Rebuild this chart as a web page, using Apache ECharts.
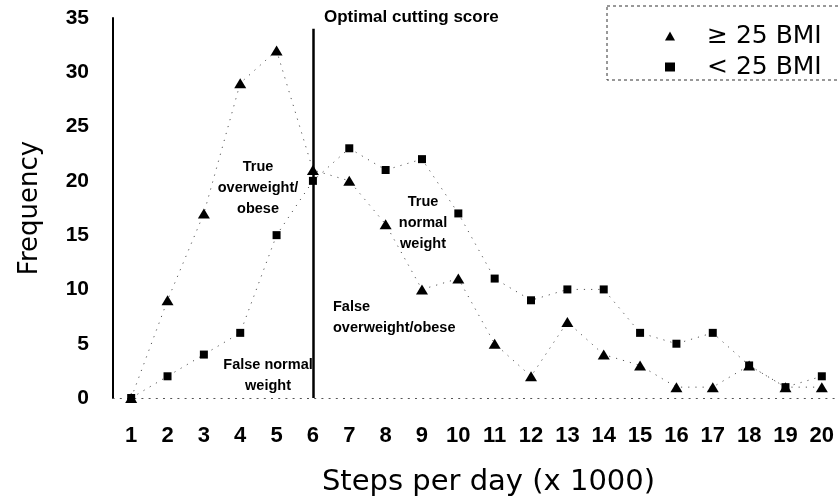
<!DOCTYPE html>
<html>
<head>
    <meta charset="UTF-8">
    <title>Steps per day</title>
    <script src="https://cdn.jsdelivr.net/npm/echarts@6/dist/echarts.min.js"></script>
    <style>
        html, body { margin: 0; padding: 0; background: #fff; }
        #main { width: 840px; height: 502px; }
    </style>
</head>
<body>
<div id="main"></div>
<script type="text/javascript">
    // steps per day (x 1000)
    var steps = ['1', '2', '3', '4', '5', '6', '7', '8', '9', '10',
        '11', '12', '13', '14', '15', '16', '17', '18', '19', '20'];
    // frequency, >= 25 BMI (triangles)
    var overBmi = [0, 9, 17, 29, 32, 21, 20, 16, 10, 11, 5, 2, 7, 4, 3, 1, 1, 3, 1, 1];
    // frequency, < 25 BMI (squares)
    var underBmi = [0, 2, 4, 6, 15, 20, 23, 21, 22, 17, 11, 9, 10, 10, 6, 5, 6, 3, 1, 2];
    var seriesNames = ['\u2265 25 BMI', '< 25 BMI'];
    var cutoffStep = '6';
    var cutoffTop = 34;
    var freqTicks = [0, 5, 10, 15, 20, 25, 30, 35];

    var tickFont = 'Liberation Sans, Arial, sans-serif';
    var titleFont = 'DejaVu Sans, sans-serif';
    var noteStyle = {
        fontFamily: tickFont,
        fontWeight: 'bold',
        fontSize: 14.5,
        lineHeight: 21,
        fill: '#000'
    };

    var chart = echarts.init(document.getElementById('main'));

    // faint dotted joins between the points
    var dotted = {color: '#555', width: 1, type: [1.2, 6]};

    chart.setOption({
        animation: false,
        backgroundColor: '#fff',
        grid: {left: 113, right: 0, top: 18, bottom: 103},
        legend: {
            orient: 'vertical',
            left: 660,
            top: 18,
            itemWidth: 10,
            itemHeight: 9,
            itemGap: 5,
            selectedMode: false,
            data: [
                {name: seriesNames[0], icon: 'triangle'},
                {name: seriesNames[1], icon: 'rect'}
            ],
            itemStyle: {color: '#000'},
            textStyle: {
                fontFamily: titleFont,
                fontSize: 25,
                lineHeight: 26,
                color: '#000',
                padding: [0, 0, 0, 27]
            }
        },
        xAxis: {
            type: 'category',
            data: steps,
            boundaryGap: true,
            name: 'Steps per day (x 1000)',
            nameLocation: 'middle',
            nameGap: 70,
            nameTextStyle: {
                fontFamily: titleFont,
                fontSize: 29,
                color: '#000',
                padding: [0, 0, 0, 24]
            },
            axisLine: {show: true, lineStyle: dotted},
            axisTick: {show: false},
            axisLabel: {
                margin: 27,
                fontFamily: tickFont,
                fontWeight: 'bold',
                fontSize: 22,
                color: '#000'
            },
            splitLine: {show: false}
        },
        yAxis: {
            type: 'value',
            min: freqTicks[0],
            max: freqTicks[freqTicks.length - 1],
            interval: 5,
            name: 'Frequency',
            nameLocation: 'middle',
            nameRotate: 90,
            nameGap: 70,
            nameTextStyle: {
                fontFamily: titleFont,
                fontSize: 26,
                color: '#000'
            },
            axisLine: {show: true, lineStyle: {color: '#000', width: 2}},
            axisTick: {show: false},
            axisLabel: {
                margin: 24,
                fontFamily: tickFont,
                fontWeight: 'bold',
                fontSize: 21,
                color: '#000'
            },
            splitLine: {show: false}
        },
        series: [
            {
                name: seriesNames[0],
                type: 'line',
                data: overBmi,
                symbol: 'triangle',
                symbolSize: [12, 10],
                showAllSymbol: true,
                itemStyle: {color: '#000'},
                lineStyle: dotted,
                z: 3
            },
            {
                name: seriesNames[1],
                type: 'line',
                data: underBmi,
                symbol: 'rect',
                symbolSize: 8,
                showAllSymbol: true,
                itemStyle: {color: '#000'},
                lineStyle: dotted,
                z: 4,
                markLine: {
                    silent: true,
                    symbol: 'none',
                    label: {show: false},
                    lineStyle: {color: '#000', width: 2.5, type: 'solid'},
                    data: [[{coord: [cutoffStep, cutoffTop]}, {coord: [cutoffStep, 0]}]]
                }
            }
        ],
        graphic: [
            {
                type: 'rect',
                shape: {x: 607, y: 6, width: 240, height: 74},
                style: {fill: 'none', stroke: '#333', lineWidth: 1, lineDash: [3, 3]},
                silent: true
            },
            {
                type: 'text', left: 324, top: 9,
                style: {
                    text: 'Optimal cutting score',
                    fontFamily: tickFont, fontWeight: 'bold', fontSize: 17, fill: '#000'
                }
            },
            {
                type: 'text', x: 258, y: 156,
                style: Object.assign({text: 'True\noverweight/\nobese', align: 'center'}, noteStyle)
            },
            {
                type: 'text', x: 268, y: 354,
                style: Object.assign({text: 'False normal\nweight', align: 'center'}, noteStyle)
            },
            {
                type: 'text', x: 423, y: 191,
                style: Object.assign({text: 'True\nnormal\nweight', align: 'center'}, noteStyle)
            },
            {
                type: 'text', x: 333, y: 296,
                style: Object.assign({text: 'False\noverweight/obese', align: 'left'}, noteStyle)
            }
        ]
    });

    window.onresize = function () {
        chart.resize();
    };
</script>
</body>
</html>
